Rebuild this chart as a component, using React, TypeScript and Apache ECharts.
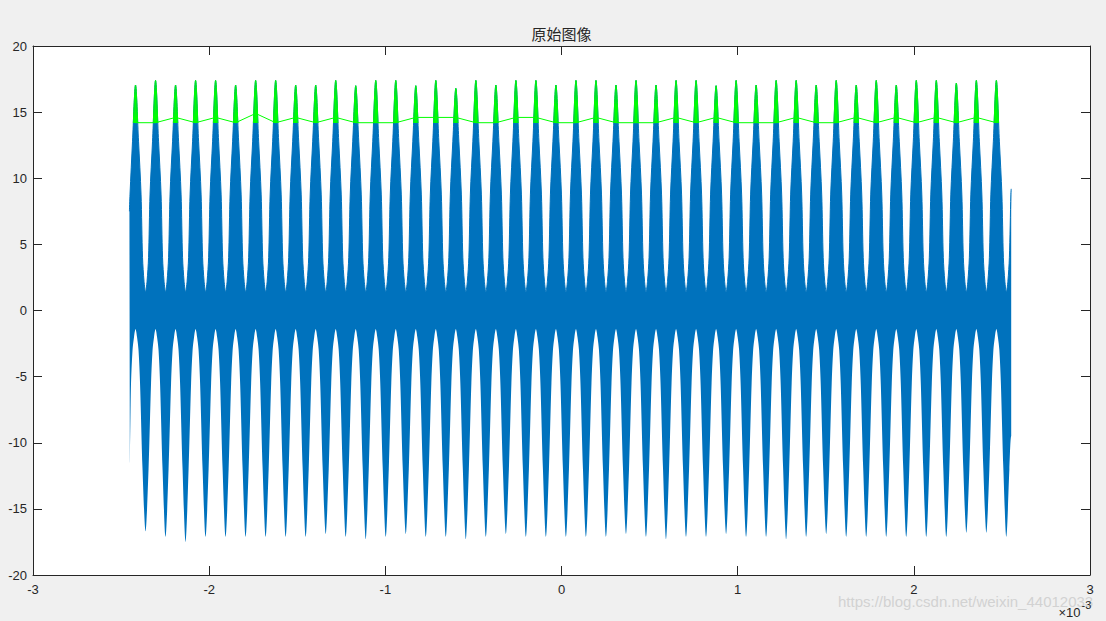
import React, { useEffect, useRef } from 'react';
import * as echarts from 'echarts';

// ---- text ----
const TITLE = '原始图像';
const X_TICK_LABELS = ['-3', '-2', '-1', '0', '1', '2', '3'];
const Y_TICK_LABELS = ['-20', '-15', '-10', '-5', '0', '5', '10', '15', '20'];
const X_EXPONENT_BASE = '×10';
const X_EXPONENT = '-3';
const WATERMARK = 'https://blog.csdn.net/weixin_44012033';

// ---- time base (x in units of 1e-3 s) ----
const T_START = -2.4527;
const T_END = 2.5527;
const FIRST_PEAK_T = -2.418;
const PERIOD = 0.11364;

// ---- blue signal: extremes read per cycle ----
const PEAK_VALUES = [
  17.05, 17.4, 17.05, 17.4, 17.4, 17.05, 17.4, 17.4, 17.05, 17.05,
  17.4, 17.0, 17.4, 17.4, 17.0, 17.4, 16.8, 17.4, 17.05, 17.4,
  17.4, 17.05, 17.4, 17.4, 17.05, 17.4, 17.05, 17.4, 17.4, 17.0,
  17.4, 17.05, 17.4, 17.4, 17.05, 17.4, 17.05, 17.4, 17.05, 17.4,
  17.4, 17.2, 17.4, 17.4,
];
const TROUGH_VALUES = [
  -16.7, -17.1, -17.5, -17.1, -17.1, -17.1, -17.1, -17.1, -17.1, -16.9,
  -17.1, -17.3, -17.1, -16.9, -17.1, -17.1, -17.3, -17.1, -16.9, -17.1,
  -17.1, -17.1, -17.1, -17.1, -16.9, -17.1, -17.3, -17.1, -17.1, -16.9,
  -17.1, -17.1, -17.3, -17.1, -16.9, -17.1, -17.1, -17.1, -17.1, -17.1,
  -17.1, -16.8, -16.8, -17.1,
];
// band edge read at fractions of a half-period away from a peak (upper) / trough (lower)
const PROFILE_OFFSETS = [0.3, 0.55, 0.7, 0.85];
const UPPER_PROFILE_VALUES = [12.8, 8.8, 4.0, 2.2];
const LOWER_PROFILE_VALUES = [-12.0, -5.5, -3.0, -2.0];
const UPPER_AT_TROUGH = 1.4;
const LOWER_AT_PEAK = -1.4;
const START_UPPER = 7.5;
const START_LOWER = -11.5;
const END_UPPER = 9.2;
const END_LOWER = -9.5;

// ---- green envelope: level at each peak ----
const ENVELOPE_LEVELS = [
  14.2, 14.2, 14.6, 14.2, 14.6, 14.2, 14.9, 14.2, 14.6, 14.2,
  14.6, 14.2, 14.2, 14.2, 14.6, 14.6, 14.6, 14.2, 14.2, 14.6,
  14.6, 14.2, 14.2, 14.6, 14.2, 14.2, 14.2, 14.6, 14.2, 14.6,
  14.2, 14.2, 14.2, 14.6, 14.2, 14.2, 14.6, 14.2, 14.6, 14.2,
  14.6, 14.2, 14.6, 14.2,
];
const CAP_LEVEL = 14.2;

const BLUE = '#0072bd';
const GREEN = '#00ff00';
const INK = '#262626';
const SMOOTH = 0.3;
const FONT = "'Liberation Sans', Arial, Helvetica, sans-serif";

const HALF = PERIOD / 2;
const peakT = (i: number) => FIRST_PEAK_T + i * PERIOD;
const troughT = (i: number) => peakT(i) + HALF;

function buildEdge(
  centerT: (i: number) => number,
  centerVals: number[],
  profileVals: number[],
  between: number,
  startVal: number,
  endVal: number,
): number[][] {
  const pts: number[][] = [[T_START, startVal]];
  const inside = (t: number) => t > T_START + 1e-6 && t < T_END - 1e-6;
  for (let i = -1; i <= centerVals.length; i++) {
    const c = centerT(i);
    for (let k = PROFILE_OFFSETS.length - 1; k >= 0; k--) {
      const t = c - PROFILE_OFFSETS[k] * HALF;
      if (inside(t)) pts.push([t, profileVals[k]]);
    }
    if (i >= 0 && i < centerVals.length && inside(c)) pts.push([c, centerVals[i]]);
    for (let k = 0; k < PROFILE_OFFSETS.length; k++) {
      const t = c + PROFILE_OFFSETS[k] * HALF;
      if (inside(t)) pts.push([t, profileVals[k]]);
    }
    if (inside(c + HALF)) pts.push([c + HALF, between]);
  }
  pts.push([T_END, endVal]);
  return pts;
}

const upperData = buildEdge(peakT, PEAK_VALUES, UPPER_PROFILE_VALUES, UPPER_AT_TROUGH, START_UPPER, END_UPPER);
const lowerData = buildEdge(troughT, TROUGH_VALUES, LOWER_PROFILE_VALUES, LOWER_AT_PEAK, START_LOWER, END_LOWER);
// the white mask reaches a hair past both ends so no seam shows below the band
const maskData = [[T_START - 0.006, START_LOWER], ...lowerData, [T_END + 0.006, END_LOWER]];
const envelopeData = ENVELOPE_LEVELS.map((v, i) => [peakT(i), v]);

const axisCommon = {
  axisLine: { show: true, onZero: false, lineStyle: { color: INK, width: 1 } },
  axisTick: { show: true, inside: true, length: 9, lineStyle: { color: INK, width: 1 } },
  splitLine: { show: false },
  z: 10,
};

const xLabel = (v: number) => X_TICK_LABELS[Math.round(v) + 3] ?? String(v);
const yLabel = (v: number) => Y_TICK_LABELS[Math.round(v / 5) + 4] ?? String(v);

const option: any = {
  animation: false,
  backgroundColor: '#f0f0f0',
  grid: {
    left: 33, top: 46, width: 1057, height: 529,
    show: true, backgroundColor: '#ffffff', borderWidth: 0,
    containLabel: false, outerBoundsMode: 'none',
  },
  xAxis: [
    {
      ...axisCommon, type: 'value', position: 'bottom', min: -3, max: 3, interval: 1,
      axisLabel: { color: INK, fontSize: 13, fontFamily: FONT, margin: 8, formatter: xLabel },
    },
    {
      ...axisCommon, type: 'value', position: 'top', min: -3, max: 3, interval: 1,
      axisLabel: { show: false },
    },
  ],
  yAxis: [
    {
      ...axisCommon, type: 'value', position: 'left', min: -20, max: 20, interval: 5,
      axisLabel: { color: INK, fontSize: 13, fontFamily: FONT, margin: 6, formatter: yLabel },
    },
    {
      ...axisCommon, type: 'value', position: 'right', min: -20, max: 20, interval: 5,
      axisLabel: { show: false },
    },
  ],
  visualMap: [
    {
      type: 'piecewise', show: false, seriesIndex: 2, dimension: 1,
      pieces: [
        { gt: -100, lte: CAP_LEVEL, color: 'rgba(0,0,0,0)' },
        { gt: CAP_LEVEL, lte: 100, color: GREEN },
      ],
    },
  ],
  series: [
    {
      name: 'signal-upper', type: 'line', data: upperData, smooth: SMOOTH, symbol: 'none',
      lineStyle: { color: BLUE, width: 1 },
      areaStyle: { color: BLUE, opacity: 1, origin: 'start' },
      silent: true,
    },
    {
      name: 'signal-lower', type: 'line', data: maskData, smooth: SMOOTH, symbol: 'none',
      lineStyle: { width: 0, opacity: 0 },
      areaStyle: { color: '#ffffff', opacity: 1, origin: 'start' },
      silent: true,
    },
    {
      name: 'envelope-cap', type: 'line', data: upperData, smooth: SMOOTH, symbol: 'none',
      lineStyle: { width: 1 },
      areaStyle: { opacity: 1, origin: 'start' },
      silent: true,
    },
    {
      name: 'envelope', type: 'line', data: envelopeData, symbol: 'none',
      lineStyle: { color: GREEN, width: 1 },
      silent: true,
    },
  ],
  graphic: [
    {
      type: 'text', x: 561.5, y: 33.5, z: 20,
      style: { text: TITLE, fill: INK, font: "15px 'Noto Sans CJK SC', sans-serif", textAlign: 'center', textVerticalAlign: 'middle' },
    },
    {
      type: 'text', x: 838, y: 601, z: 5,
      style: { text: WATERMARK, fill: '#d2d2d2', font: `15px ${FONT}`, textAlign: 'left', textVerticalAlign: 'middle' },
    },
    {
      type: 'text', x: 1080.5, y: 612, z: 20,
      style: { text: X_EXPONENT_BASE, fill: INK, font: `13px ${FONT}`, textAlign: 'right', textVerticalAlign: 'middle' },
    },
    {
      type: 'text', x: 1081.5, y: 605, z: 20,
      style: { text: X_EXPONENT, fill: INK, font: `11px ${FONT}`, textAlign: 'left', textVerticalAlign: 'middle' },
    },
  ],
};

export default function App() {
  const ref = useRef<HTMLDivElement>(null);
  useEffect(() => {
    if (!ref.current) return;
    const chart = echarts.init(ref.current, undefined, { renderer: 'svg' });
    chart.setOption(option);
    return () => chart.dispose();
  }, []);
  return <div ref={ref} style={{ position: 'fixed', left: 0, top: 0, width: 1106, height: 621 }} />;
}
